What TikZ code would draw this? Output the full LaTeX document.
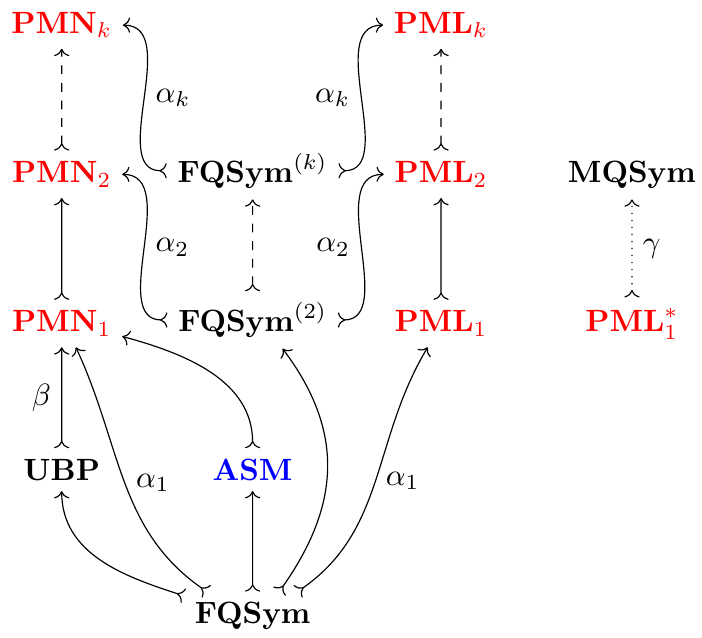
\documentclass[tikz,border=0pt]{standalone}
\usetikzlibrary{arrows.meta}
\begin{document}
\begin{tikzpicture}[>={To},
  every node/.append style={scale=1.05},
  alg/.style={anchor=base},
  pm/.style={alg,text=red},
  mono/.style={>->}]
\useasboundingbox (0,0) rectangle (8.42,-7.65);

\node[pm] (pmnk) at (0.74,-0.40) {$\mathbf{PMN}_k$};
\node[pm] (pmlk) at (5.29,-0.40) {$\mathbf{PML}_k$};
\node[pm] (pmn2) at (0.74,-2.19) {$\mathbf{PMN}_2$};
\node[alg] (fqk) at (3.03,-2.19) {$\mathbf{FQSym}^{(k)}$};
\node[pm] (pml2) at (5.29,-2.19) {$\mathbf{PML}_2$};
\node[alg] (mq) at (7.58,-2.19) {$\mathbf{MQSym}$};
\node[pm] (pmn1) at (0.74,-3.98) {$\mathbf{PMN}_1$};
\node[alg] (fq2) at (3.03,-3.98) {$\mathbf{FQSym}^{(2)}$};
\node[pm] (pml1) at (5.29,-3.98) {$\mathbf{PML}_1$};
\node[pm] (pmls) at (7.58,-3.98) {$\mathbf{PML}_1^*$};
\node[alg] (ubp) at (0.74,-5.76) {$\mathbf{UBP}$};
\node[alg,text=blue] (asm) at (3.03,-5.76) {$\mathbf{ASM}$};
\node[alg] (fq) at (3.03,-7.48) {$\mathbf{FQSym}$};

% vertical maps
\draw[mono,dashed] (pmn2) -- (pmnk);
\draw[mono] (pmn1) -- (pmn2);
\draw[mono] (ubp) -- node[left] {$\beta$} (pmn1);
\draw[mono,dashed] (fq2) -- (fqk);
\draw[mono,dashed] (pml2) -- (pmlk);
\draw[mono] (pml1) -- (pml2);
\draw[mono,dotted] (pmls) -- node[right] {$\gamma$} (mq);
\draw[mono] (fq) -- (asm);

% the alpha maps
\draw[mono] (fqk.west) to[out=180,in=0] node[right] {$\alpha_k$} (pmnk.east);
\draw[mono] (fqk.east) to[out=0,in=180] node[left] {$\alpha_k$} (pmlk.west);
\draw[mono] (fq2.west) to[out=180,in=0] node[right] {$\alpha_2$} (pmn2.east);
\draw[mono] (fq2.east) to[out=0,in=180] node[left] {$\alpha_2$} (pml2.west);

% maps out of FQSym
\draw[mono] (asm.north) to[out=90,in=-15] (pmn1.-12);
\draw[mono] ([yshift=-0.05cm]fq.north west) to[out=162,in=-90] (ubp.south);
\draw[mono] ([xshift=-0.55cm]fq.north) to[out=145,in=-65] node[right] {$\alpha_1$} ([xshift=0.17cm]pmn1.south);
\draw[mono] ([xshift=0.32cm]fq.north) to[out=55,in=-53,looseness=1.1] ([xshift=0.36cm]fq2.south);
\draw[mono] ([xshift=0.54cm]fq.north) to[out=35,in=-121] node[right] {$\alpha_1$} ([xshift=-0.16cm]pml1.south);
\end{tikzpicture}
\end{document}
